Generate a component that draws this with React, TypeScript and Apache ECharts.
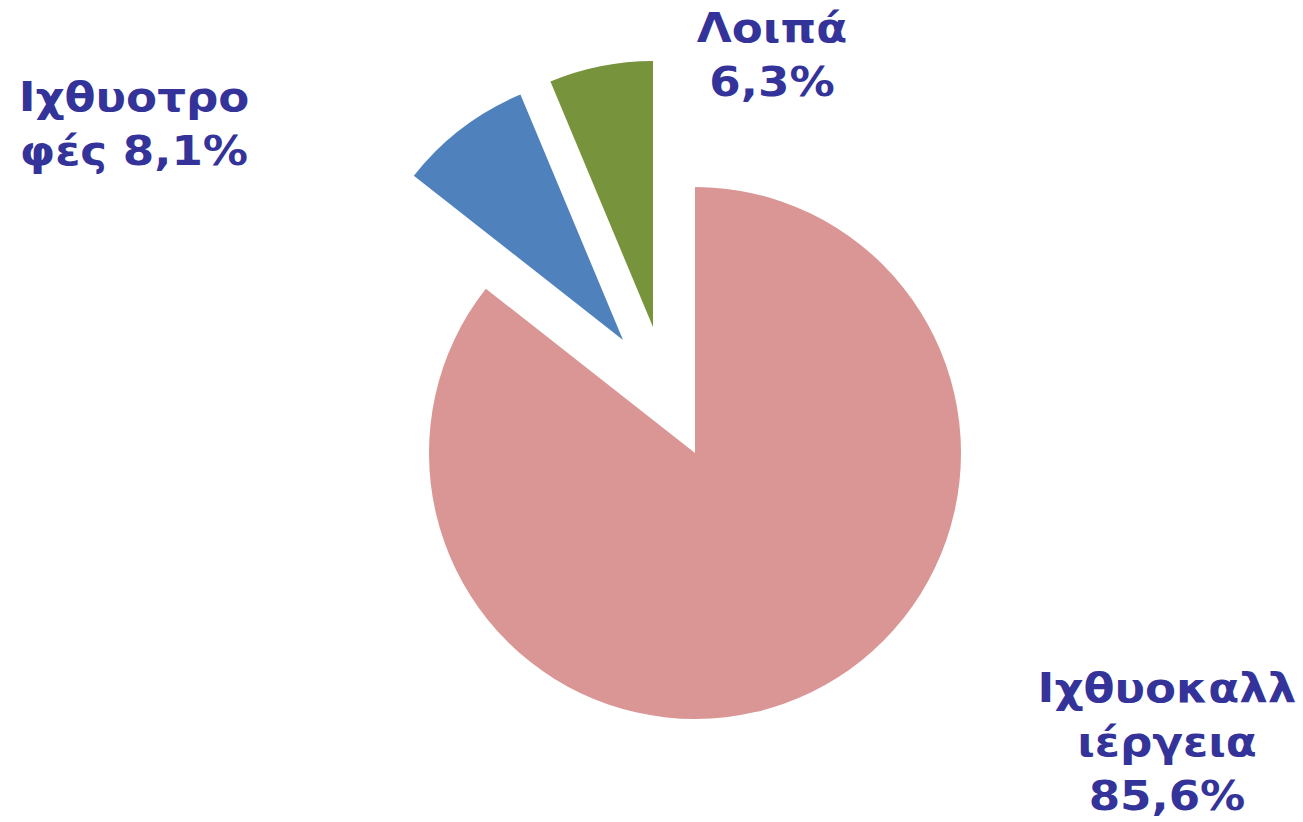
import React, { useEffect, useRef } from "react";
import * as echarts from "echarts";

// Data
const categories = ["Ιχθυοκαλλιέργεια", "Ιχθυοτροφές", "Λοιπά"];
const values = [85.6, 8.1, 6.3];
// label templates as wrapped in the original ({p} = percentage)
const labelTemplates = ["Ιχθυοκαλλ\nιέργεια\n{p}", "Ιχθυοτρο\nφές {p}", "Λοιπά\n{p}"];

// Styles / layout
const colors = ["#D99694", "#4F81BD", "#77933C"];
const centers: [number, number][] = [
  [695, 453],
  [623, 340],
  [653, 327],
];
const labelPos: [number, number][] = [
  [1167, 742],
  [134, 124],
  [772, 55],
];
const RADIUS = 266;
const TEXT_COLOR = "#333399";

function fmt(v: number) {
  return v.toFixed(1).replace(".", ",") + "%";
}

export default function App() {
  const ref = useRef<HTMLDivElement>(null);
  useEffect(() => {
    if (!ref.current) return;
    const chart = echarts.init(ref.current, undefined, { renderer: "svg" });
    const series = categories.map((_, i) => ({
      type: "pie" as const,
      silent: true,
      center: centers[i],
      radius: RADIUS,
      startAngle: 90,
      clockwise: true,
      label: { show: false },
      labelLine: { show: false },
      itemStyle: { borderWidth: 0 },
      data: categories.map((name, j) => ({
        name,
        value: values[j],
        itemStyle: { color: j === i ? colors[j] : "transparent" },
      })),
    }));
    const graphic = categories.map((_, i) => ({
      type: "text" as const,
      x: labelPos[i][0],
      y: labelPos[i][1],
      scaleX: 1.13,
      silent: true,
      style: {
        text: labelTemplates[i].replace("{p}", fmt(values[i])),
        font: 'bold 40px "DejaVu Sans"',
        fill: TEXT_COLOR,
        align: "center",
        verticalAlign: "middle",
        lineHeight: 54,
      },
    }));
    chart.setOption({
      animation: false,
      backgroundColor: "#ffffff",
      series,
      graphic,
    });
    return () => chart.dispose();
  }, []);
  return (
    <div
      ref={ref}
      style={{ position: "absolute", left: 0, top: 0, width: 1303, height: 822 }}
    />
  );
}
